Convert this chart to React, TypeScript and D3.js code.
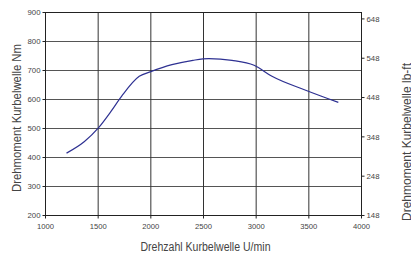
import React from "react";
import * as d3 from "d3";

const rpm = [1200, 1370, 1500, 1620, 1730, 1890, 2000, 2200, 2400, 2550, 2770, 2980, 3150, 3470, 3780];
const torqueNm = [415, 455, 501, 558, 615, 680, 696, 720, 735, 741, 735, 718, 680, 632, 590];
const xTicks = [1000, 1500, 2000, 2500, 3000, 3500, 4000];
const yTicks = [200, 300, 400, 500, 600, 700, 800, 900];
const lbftTicks = [148, 248, 348, 448, 548, 648];

const W = 411, H = 258;
const L = 45.5, R = 361.5, T = 12.5, B = 215.5;
const FONT = "'Liberation Sans Narrow', 'Arial Narrow', 'Liberation Sans', Arial, sans-serif";

export default function App() {
  const x = d3.scaleLinear().domain([1000, 4000]).range([L, R]);
  const y = d3.scaleLinear().domain([200, 900]).range([B, T]);
  const yLb = d3.scaleLinear().domain([200 / 1.3558, 900 / 1.3558]).range([B, T]);
  const line = d3.line<number>()
    .x((_, i) => x(rpm[i]))
    .y((d) => y(d))
    .curve(d3.curveMonotoneX);
  return (
    <svg width={W} height={H} style={{ position: "absolute", left: 0, top: 0, background: "#fff" }}>
      <rect x={0} y={0} width={W} height={H} fill="#fff" />
      {yTicks.slice(1, -1).map((t) => (
        <line key={"h" + t} x1={L} x2={R} y1={y(t)} y2={y(t)} stroke="#555" strokeWidth={1} />
      ))}
      {xTicks.slice(1, -1).map((t) => (
        <line key={"v" + t} x1={x(t)} x2={x(t)} y1={T} y2={B} stroke="#333" strokeWidth={1} />
      ))}
      <rect x={L} y={T} width={R - L} height={B - T} fill="none" stroke="#222" strokeWidth={1} />
      {yTicks.map((t) => (
        <g key={"yt" + t}>
          <line x1={L - 3} x2={L} y1={y(t)} y2={y(t)} stroke="#222" />
          <text x={L - 5} y={y(t)} dy="0.35em" textAnchor="end" fontSize={8} fill="#444" fontFamily={FONT} textLength={13} lengthAdjust="spacingAndGlyphs">{t}</text>
        </g>
      ))}
      {xTicks.map((t) => (
        <g key={"xt" + t}>
          <line x1={x(t)} x2={x(t)} y1={B} y2={B + 3} stroke="#222" />
          <text x={x(t)} y={B + 13} textAnchor="middle" fontSize={8} fill="#444" fontFamily={FONT} textLength={17} lengthAdjust="spacingAndGlyphs">{t}</text>
        </g>
      ))}
      {lbftTicks.map((t, i) => {
        const v = 200 / 1.3558 + 100 * i;
        return (
          <g key={"rt" + t}>
            <line x1={R} x2={R + 3} y1={yLb(v)} y2={yLb(v)} stroke="#222" />
            <text x={R + 5} y={yLb(v)} dy="0.35em" textAnchor="start" fontSize={8} fill="#444" fontFamily={FONT} textLength={13} lengthAdjust="spacingAndGlyphs">{t}</text>
          </g>
        );
      })}
      <path d={line(torqueNm) || ""} fill="none" stroke="#2e3192" strokeWidth={1.2} />
      <text x={(L + R) / 2 + 2} y={251} textAnchor="middle" fontSize={12} fill="#444" fontFamily={FONT} textLength={130} lengthAdjust="spacingAndGlyphs">Drehzahl Kurbelwelle U/min</text>
      <text transform={`translate(21,118) rotate(-90)`} textAnchor="middle" fontSize={12} fill="#444" fontFamily={FONT} textLength={148} lengthAdjust="spacingAndGlyphs">Drehmoment Kurbelwelle Nm</text>
      <text transform={`translate(411,142) rotate(-90)`} textAnchor="middle" fontSize={12} fill="#444" fontFamily={FONT} textLength={158} lengthAdjust="spacingAndGlyphs">Drehmoment Kurbelwelle lb-ft</text>
    </svg>
  );
}
